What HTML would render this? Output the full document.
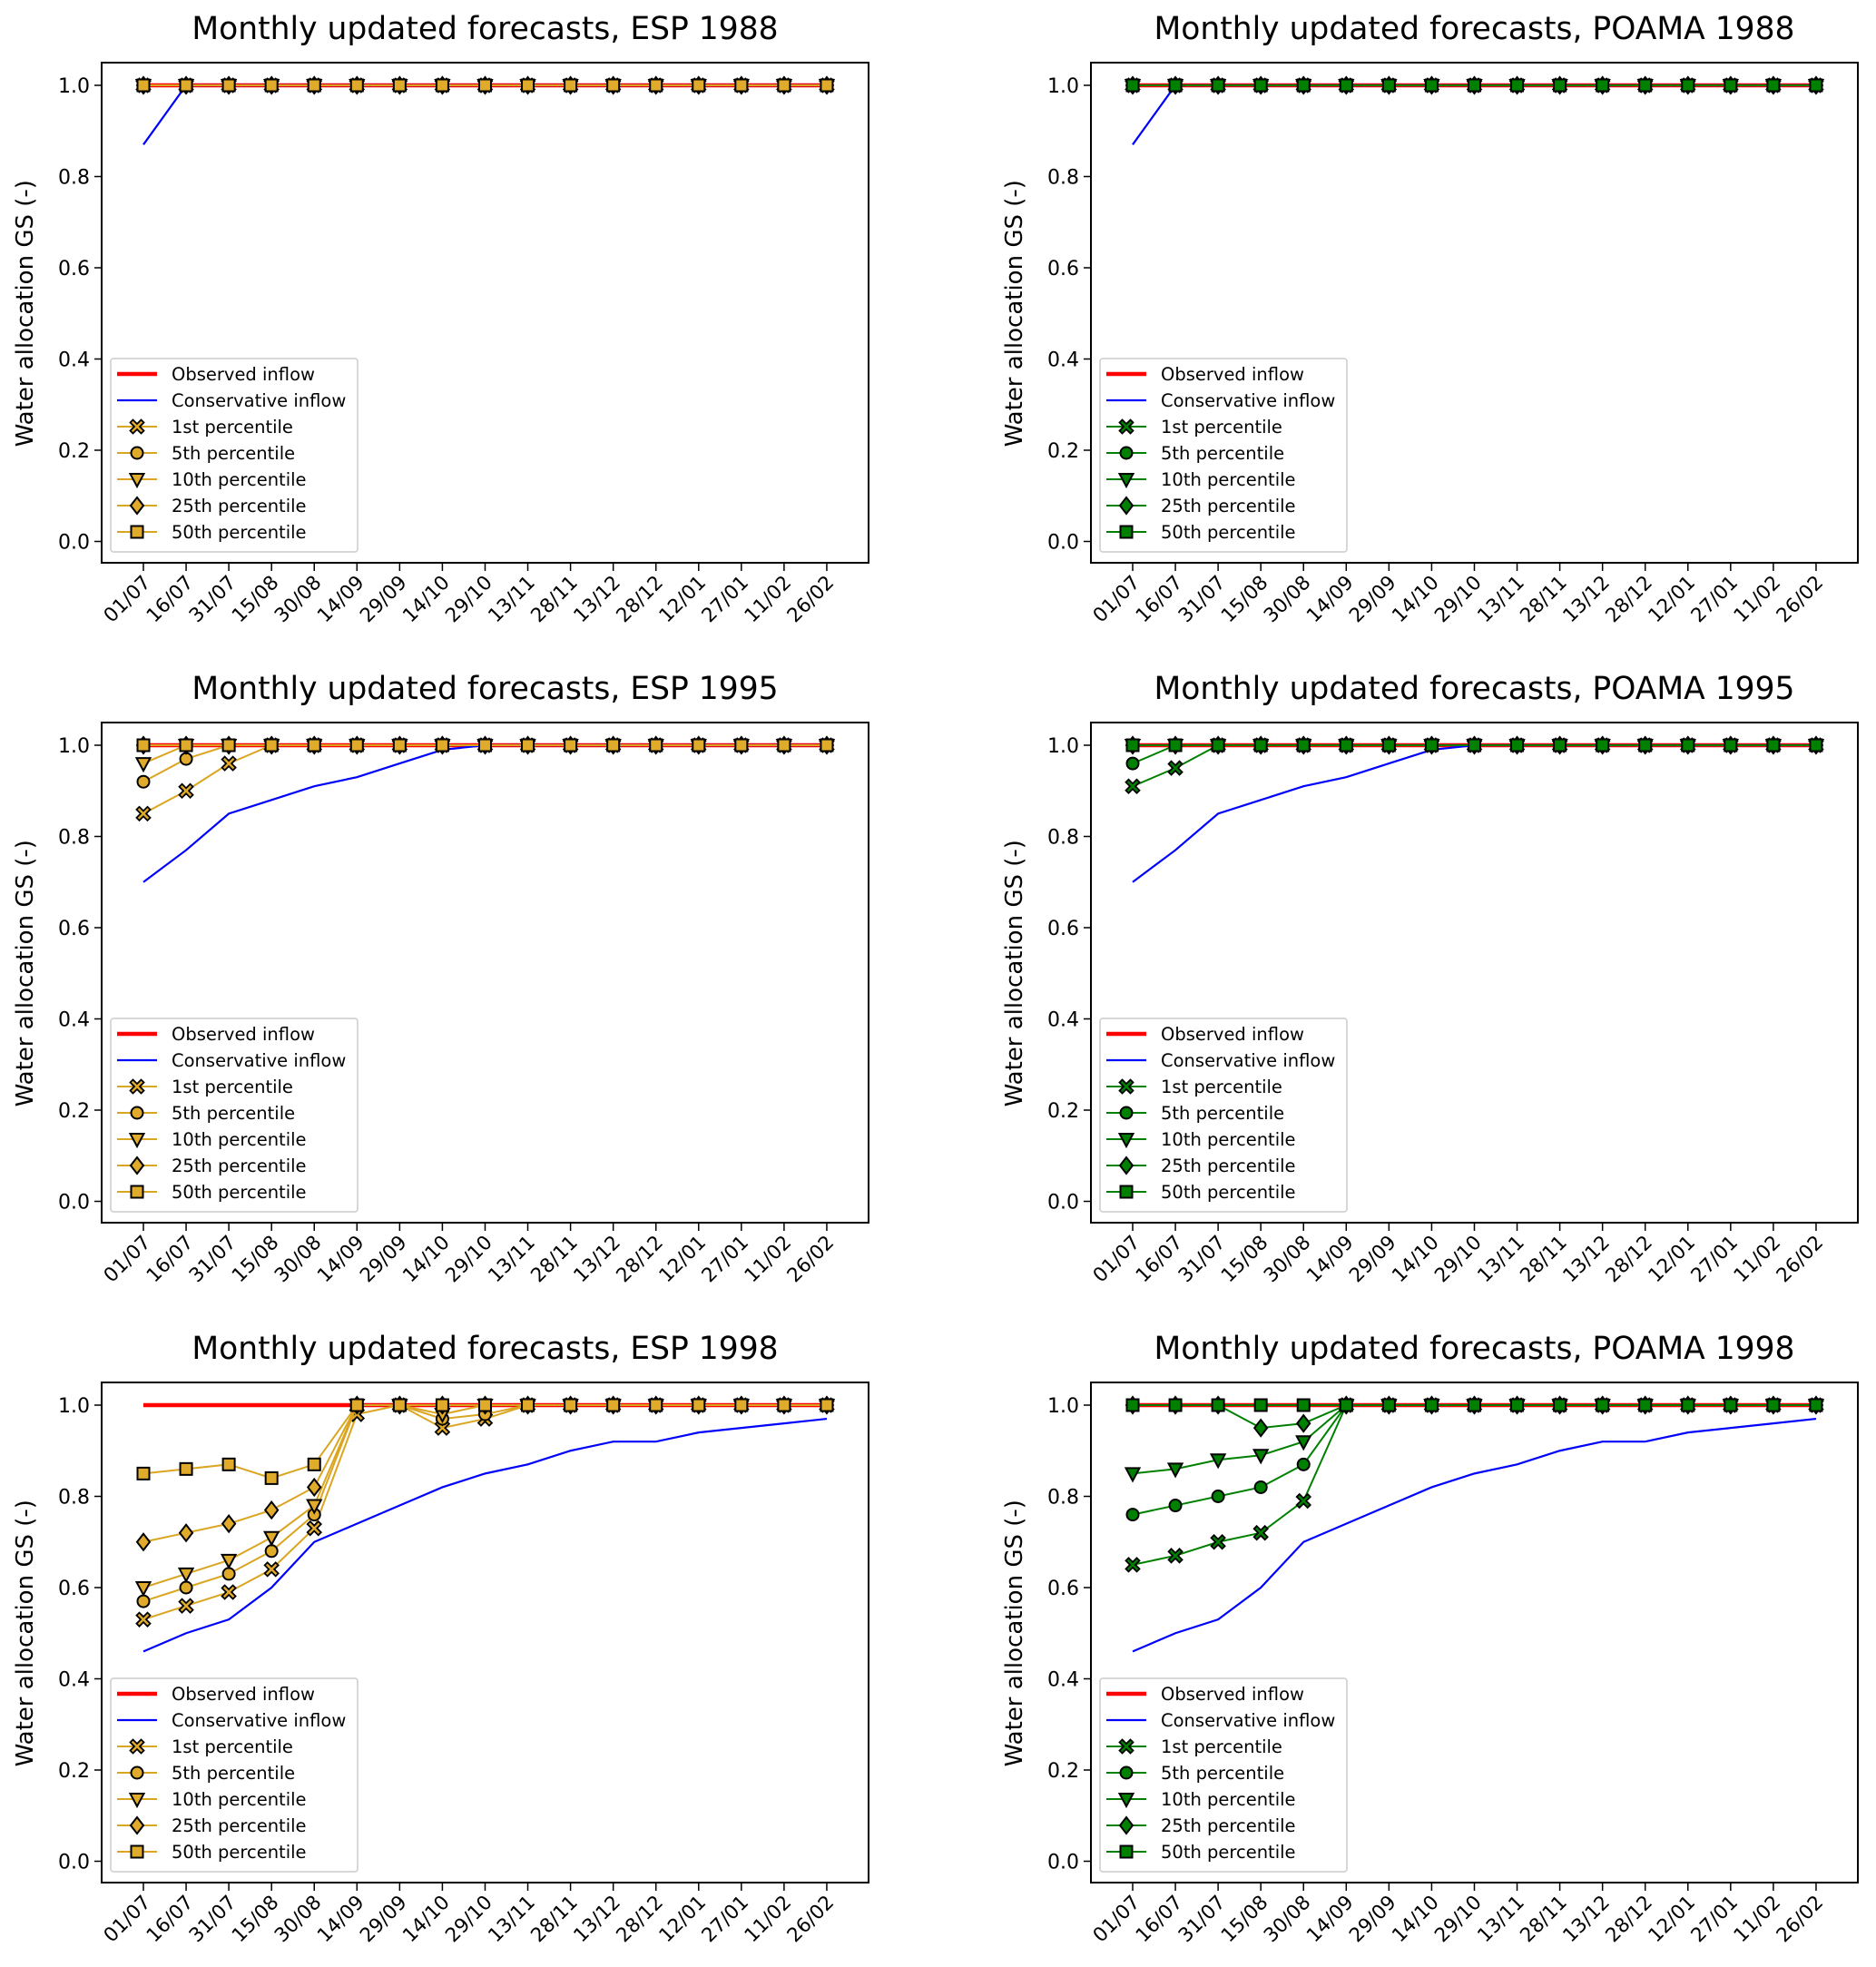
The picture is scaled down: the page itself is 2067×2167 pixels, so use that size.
<!DOCTYPE html>
<html><head><meta charset="utf-8"><style>
html,body{margin:0;padding:0;background:#fff}
svg{display:block}
text{font-family:"DejaVu Sans","Liberation Sans",sans-serif}
</style></head><body>
<svg id="fig" width="2067" height="2167" viewBox="0 0 2067 2167" xmlns="http://www.w3.org/2000/svg"></svg>
<script>
const categories=["01/07","16/07","31/07","15/08","30/08","14/09","29/09","14/10","29/10","13/11","28/11","13/12","28/12","12/01","27/01","11/02","26/02"];
const yTicks=[0.0,0.2,0.4,0.6,0.8,1.0];
const yTickLabels=["0.0","0.2","0.4","0.6","0.8","1.0"];
const seriesNames=["1st percentile","5th percentile","10th percentile","25th percentile","50th percentile"];
const ones=[1,1,1,1,1,1,1,1,1,1,1,1,1,1,1,1,1];
const obs1988=ones;
const cons1988=[0.87,1,1,1,1,1,1,1,1,1,1,1,1,1,1,1,1];
const esp1988=[ones,ones,ones,ones,ones];
const poama1988=[ones,ones,ones,ones,ones];
const obs1995=ones;
const cons1995=[0.70,0.77,0.85,0.88,0.91,0.93,0.96,0.99,1,1,1,1,1,1,1,1,1];
const esp1995p1=[0.85,0.90,0.96,1,1,1,1,1,1,1,1,1,1,1,1,1,1];
const esp1995p5=[0.92,0.97,1,1,1,1,1,1,1,1,1,1,1,1,1,1,1];
const esp1995p10=[0.96,1,1,1,1,1,1,1,1,1,1,1,1,1,1,1,1];
const esp1995=[esp1995p1,esp1995p5,esp1995p10,ones,ones];
const poama1995p1=[0.91,0.95,1,1,1,1,1,1,1,1,1,1,1,1,1,1,1];
const poama1995p5=[0.96,1,1,1,1,1,1,1,1,1,1,1,1,1,1,1,1];
const poama1995=[poama1995p1,poama1995p5,ones,ones,ones];
const obs1998=ones;
const cons1998=[0.46,0.50,0.53,0.60,0.70,0.74,0.78,0.82,0.85,0.87,0.90,0.92,0.92,0.94,0.95,0.96,0.97];
const esp1998p1=[0.53,0.56,0.59,0.64,0.73,0.98,1,0.95,0.97,1,1,1,1,1,1,1,1];
const esp1998p5=[0.57,0.60,0.63,0.68,0.76,1,1,0.97,0.98,1,1,1,1,1,1,1,1];
const esp1998p10=[0.60,0.63,0.66,0.71,0.78,1,1,0.98,1,1,1,1,1,1,1,1,1];
const esp1998p25=[0.70,0.72,0.74,0.77,0.82,1,1,1,1,1,1,1,1,1,1,1,1];
const esp1998p50=[0.85,0.86,0.87,0.84,0.87,1,1,1,1,1,1,1,1,1,1,1,1];
const esp1998=[esp1998p1,esp1998p5,esp1998p10,esp1998p25,esp1998p50];
const poama1998p1=[0.65,0.67,0.70,0.72,0.79,1,1,1,1,1,1,1,1,1,1,1,1];
const poama1998p5=[0.76,0.78,0.80,0.82,0.87,1,1,1,1,1,1,1,1,1,1,1,1];
const poama1998p10=[0.85,0.86,0.88,0.89,0.92,1,1,1,1,1,1,1,1,1,1,1,1];
const poama1998p25=[1,1,1,0.95,0.96,1,1,1,1,1,1,1,1,1,1,1,1];
const poama1998=[poama1998p1,poama1998p5,poama1998p10,poama1998p25,ones];

const NS="http://www.w3.org/2000/svg";
const svg=document.getElementById('fig');
function mk(tag,attrs,parent){const e=document.createElementNS(NS,tag);for(const k in attrs)e.setAttribute(k,attrs[k]);parent.appendChild(e);return e;}
const markerShapes=["x","o","v","d","s"];
function marker(g,shape,cx,cy,fill){
  let e;
  if(shape==="o"){e=mk('circle',{cx:cx,cy:cy,r:6.5,fill:fill,stroke:'#000','stroke-width':2},g);}
  else if(shape==="s"){e=mk('rect',{x:cx-6.5,y:cy-6.5,width:13,height:13,fill:fill,stroke:'#000','stroke-width':2},g);}
  else if(shape==="v"){e=mk('polygon',{points:`${cx-7.5},${cy-6} ${cx+7.5},${cy-6} ${cx},${cy+8}`,fill:fill,stroke:'#000','stroke-width':2},g);}
  else if(shape==="d"){e=mk('polygon',{points:`${cx},${cy-9} ${cx+7},${cy} ${cx},${cy+9} ${cx-7},${cy}`,fill:fill,stroke:'#000','stroke-width':2},g);}
  else {const a=3,b=7.5;e=mk('path',{d:`M${cx-b+a} ${cy-b} L${cx} ${cy-a} L${cx+b-a} ${cy-b} L${cx+b} ${cy-b+a} L${cx+a} ${cy} L${cx+b} ${cy+b-a} L${cx+b-a} ${cy+b} L${cx} ${cy+a} L${cx-b+a} ${cy+b} L${cx-b} ${cy+b-a} L${cx-a} ${cy} L${cx-b} ${cy-b+a} Z`,fill:fill,stroke:'#000','stroke-width':1.8},g);}
  return e;
}
function panel(ox,oy,title,obs,cons,pcts,color,fill,name){
  const g=mk('g',{},svg);
  
  
  const L=ox,R=ox+845,T=oy,B=oy+551;
  const x0=ox+46,dx=47.06;
  const xs=i=>x0+i*dx;
  const ys=v=>oy+25+(1-v)*502.5;
  const t=mk('text',{x:(L+R)/2,y:oy-26,'text-anchor':'middle','font-size':34.5,fill:'#000'},g);t.textContent=title;
  
  
  const yl=mk('text',{x:0,y:0,'text-anchor':'middle','font-size':26,fill:'#000',transform:`translate(${ox-76},${ys(0.5)}) rotate(-90)`},g);yl.textContent="Water allocation GS (-)";
  
  
  yTicks.forEach((v,i)=>{
    mk('line',{x1:L-8,x2:L,y1:ys(v),y2:ys(v),stroke:'#000','stroke-width':1.5},g);
    const tl=mk('text',{x:L-13,y:ys(v)+8,'text-anchor':'end','font-size':22,fill:'#000'},g);tl.textContent=yTickLabels[i];
    
    
  });
  categories.forEach((c,i)=>{
    mk('line',{x1:xs(i),x2:xs(i),y1:B,y2:B+9,stroke:'#000','stroke-width':1.5},g);
    const tl=mk('text',{x:0,y:0,'text-anchor':'end','font-size':21.5,fill:'#000',transform:`translate(${xs(i)+9},${B+23}) rotate(-45)`},g);tl.textContent=c;
    
    
  });
  const pts=a=>a.map((v,i)=>`${xs(i)},${ys(v)}`).join(' ');
  const ol=mk('polyline',{points:pts(obs),fill:'none',stroke:'#ff0000','stroke-width':4.5},g);
  
  
  const cl=mk('polyline',{points:pts(cons),fill:'none',stroke:'#0000ff','stroke-width':2.2},g);
  
  
  pcts.forEach((arr,k)=>{
    const sg=mk('g',{},g);
    
    
    mk('polyline',{points:pts(arr),fill:'none',stroke:color,'stroke-width':2},sg);
    arr.forEach((v,i)=>{const m=marker(sg,markerShapes[k],xs(i),ys(v),fill);
      
      });
  });
  mk('rect',{x:L,y:T,width:R-L,height:B-T,fill:'none',stroke:'#000','stroke-width':2},g);
  const lg=mk('g',{},g);
  
  
  mk('rect',{x:ox+10,y:oy+326,width:272,height:213,rx:3,fill:'#fff','fill-opacity':0.85,stroke:'#ccc','stroke-width':1.5},lg);
  const labels=["Observed inflow","Conservative inflow"].concat(seriesNames);
  labels.forEach((lab,i)=>{
    const y=oy+343+i*29;
    if(i===0) mk('line',{x1:ox+17,x2:ox+61,y1:y,y2:y,stroke:'#ff0000','stroke-width':4.5},lg);
    else if(i===1) mk('line',{x1:ox+17,x2:ox+61,y1:y,y2:y,stroke:'#0000ff','stroke-width':2.2},lg);
    else {mk('line',{x1:ox+17,x2:ox+61,y1:y,y2:y,stroke:color,'stroke-width':2},lg);marker(lg,markerShapes[i-2],ox+39,y,fill);}
    const tx=mk('text',{x:ox+77,y:y+7,'font-size':19.5,fill:'#000'},lg);tx.textContent=lab;
    
    
  });
}
const gold="#daa520",goldFill="#e0aa2a",green="#008000";
panel(112,69,"Monthly updated forecasts, ESP 1988",obs1988,cons1988,esp1988,gold,goldFill,"panel-esp-1988");
panel(1202,69,"Monthly updated forecasts, POAMA 1988",obs1988,cons1988,poama1988,green,green,"panel-poama-1988");
panel(112,796,"Monthly updated forecasts, ESP 1995",obs1995,cons1995,esp1995,gold,goldFill,"panel-esp-1995");
panel(1202,796,"Monthly updated forecasts, POAMA 1995",obs1995,cons1995,poama1995,green,green,"panel-poama-1995");
panel(112,1523,"Monthly updated forecasts, ESP 1998",obs1998,cons1998,esp1998,gold,goldFill,"panel-esp-1998");
panel(1202,1523,"Monthly updated forecasts, POAMA 1998",obs1998,cons1998,poama1998,green,green,"panel-poama-1998");
</script>
</body></html>
